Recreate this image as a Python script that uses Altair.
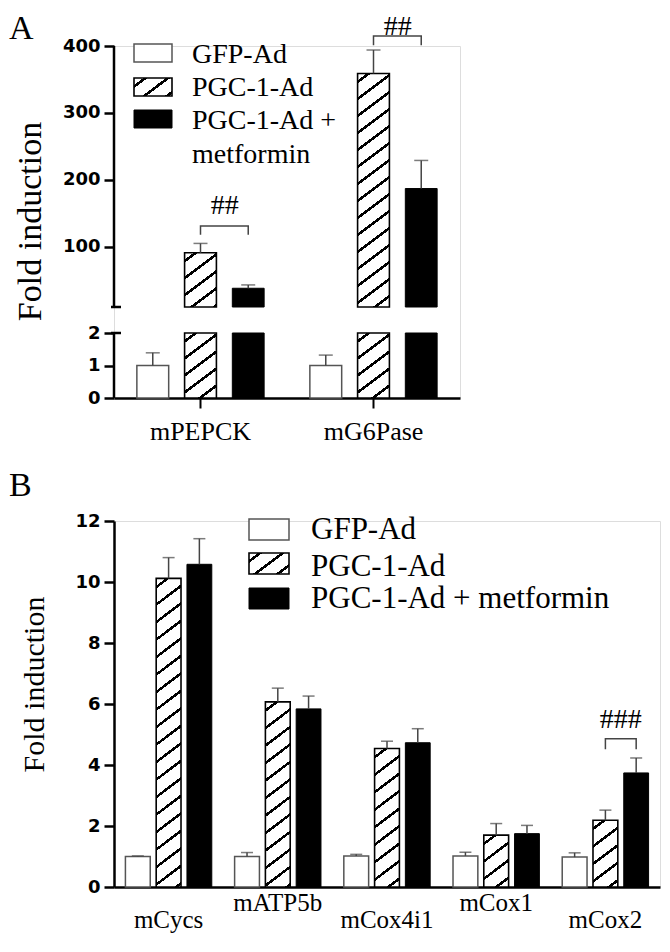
import altair as alt
import pandas as pd

# ---------------- data ----------------
SERIES = ["GFP-Ad", "PGC-1-Ad", "PGC-1-Ad + metformin"]

A_GENES = ["mPEPCK", "mG6Pase"]
A_GFP = [1.0, 1.0]
A_GFP_ERR = [0.39, 0.32]
A_PGC = [91.0, 359.0]
A_PGC_ERR = [14.0, 35.0]
A_MET = [38.0, 187.0]
A_MET_ERR = [5.0, 42.0]
A_TICKS = [0, 1, 2, 100, 200, 300, 400]
A_SIG_TEXT = ["##", "##"]
A_SIG_TOP = [131.0, 415.0]
A_SIG_TIP = [118.0, 401.0]
A_SIG_LABEL = [149.0, 417.0]
A_LEGEND = ["GFP-Ad", "PGC-1-Ad", "PGC-1-Ad +\nmetformin"]

B_GENES = ["mCycs", "mATP5b", "mCox4i1", "mCox1", "mCox2"]
B_GFP = [1.0, 1.0, 1.02, 1.02, 0.98]
B_GFP_ERR = [0.02, 0.13, 0.05, 0.12, 0.14]
B_PGC = [10.12, 6.07, 4.54, 1.70, 2.19]
B_PGC_ERR = [0.68, 0.45, 0.24, 0.38, 0.33]
B_MET = [10.58, 5.84, 4.73, 1.75, 3.74]
B_MET_ERR = [0.84, 0.42, 0.46, 0.27, 0.49]
B_TICKS = [0, 2, 4, 6, 8, 10, 12]
B_SIG_GENE = ["mCox2"]
B_SIG_TEXT = ["###"]
B_SIG_TOP = [4.86]
B_SIG_TIP = [4.52]
B_SIG_LABEL = [5.21]
B_LEGEND = ["GFP-Ad", "PGC-1-Ad", "PGC-1-Ad + metformin"]
B_UPPER_LABELS = ["mATP5b", "mCox1"]

# ---------------- style ----------------
SERIF = "Liberation Serif"
SANS = "DejaVu Sans"
ERR_COLOR = "#444444"

A_W = 346
A_LOW_MAX, A_UP_MIN, A_UP_MAX = 2, 10, 400
A_LOW_PX, A_GAP_PX, A_UP_PX = 65, 26, 261
A_K_LOW = A_LOW_PX / A_LOW_MAX
A_UP_BASE = A_LOW_PX + A_GAP_PX
A_K_UP = A_UP_PX / (A_UP_MAX - A_UP_MIN)
A_TOTAL = A_UP_BASE + A_UP_PX

B_W, B_H, B_MAX = 546, 366, 12
LETTER_X = -105
TOP_MARGIN = -37


def disp_num(v):
    return v * A_K_LOW if v <= A_LOW_MAX else A_UP_BASE + (v - A_UP_MIN) * A_K_UP


def dispA(f):
    return (f"(({f}) <= {A_LOW_MAX} ? ({f}) * {A_K_LOW} : "
            f"{A_UP_BASE} + (({f}) - {A_UP_MIN}) * {A_K_UP})")


def hatch(w, h, sp, th):
    dmax = 0.6 * w + 0.8 * h
    k = dmax / (w * h * (0.36 / h ** 2 + 0.64 / w ** 2))
    stops = [{"offset": 0, "color": "white"}]
    c = sp * 0.5
    while c - th / 2 < dmax:
        a = max(0.0, (c - th / 2) / dmax)
        b = min(1.0, (c + th / 2) / dmax)
        stops += [{"offset": a, "color": "white"}, {"offset": a, "color": "black"},
                  {"offset": b, "color": "black"}, {"offset": b, "color": "white"}]
        c += sp
    stops.append({"offset": 1, "color": "white"})
    return {"gradient": "linear", "x1": 0, "y1": 0,
            "x2": k * 0.6 / h, "y2": k * 0.8 / w, "stops": stops}


def long_df(genes, gfp, gfp_e, pgc, pgc_e, met, met_e):
    rows = []
    for i, g in enumerate(genes):
        rows.append(dict(gene=g, series=SERIES[0], value=gfp[i], err=gfp_e[i]))
        rows.append(dict(gene=g, series=SERIES[1], value=pgc[i], err=pgc_e[i]))
        rows.append(dict(gene=g, series=SERIES[2], value=met[i], err=met_e[i]))
    return pd.DataFrame(rows)


def legend_layers(labels, sw_x, sw_w, sw_tops, sw_h, txt_x, baselines, fs, lh, grad):
    df = pd.DataFrame({"series": SERIES, "label": labels})
    styles = [dict(fill="white", stroke="#555555", strokeWidth=1.5),
              dict(fill=grad, stroke="black", strokeWidth=1.6),
              dict(fill="black", stroke="black", strokeWidth=1)]
    out = []
    for i, s in enumerate(SERIES):
        b = alt.Chart(df).transform_filter(alt.datum.series == s)
        out.append(b.mark_rect(**styles[i]).encode(
            x=alt.value(sw_x), x2=alt.value(sw_x + sw_w),
            y=alt.value(sw_tops[i]), y2=alt.value(sw_tops[i] + sw_h)))
        out.append(b.mark_text(align="left", baseline="alphabetic", font=SERIF,
                               fontSize=fs, lineBreak="\n", lineHeight=lh,
                               color="black").encode(
            text="label:N", x=alt.value(txt_x), y=alt.value(baselines[i])))
    return out


# ================= Panel A =================
dfA = long_df(A_GENES, A_GFP, A_GFP_ERR, A_PGC, A_PGC_ERR, A_MET, A_MET_ERR)

axA_x = alt.Axis(title=None, labelAngle=0, domain=True, domainWidth=2.5,
                 domainColor="black", ticks=True, tickSize=10, tickWidth=2,
                 tickColor="black", labelFont=SERIF, labelFontSize=26,
                 labelColor="black", labelPadding=10, grid=False)
axA_y = alt.Axis(values=[disp_num(v) for v in A_TICKS],
                 labelExpr=(f"datum.value <= {A_LOW_PX + 0.01} ? format(datum.value / {A_K_LOW}, '.0f') : "
                            f"format({A_UP_MIN} + (datum.value - {A_UP_BASE}) / {A_K_UP}, '.0f')"),
                 domain=False, ticks=True, tickSize=10, tickWidth=2.5, tickColor="black",
                 labelFont=SANS, labelFontWeight="bold", labelFontSize=18,
                 labelColor="black", labelPadding=4, grid=False,
                 title="Fold induction", titleFont=SERIF, titleFontSize=34,
                 titleFontWeight="normal", titleColor="black",
                 titleX=-74, titleY=175, titleBaseline="alphabetic")
xscA = alt.Scale(domain=A_GENES, paddingInner=0, paddingOuter=0)
xoA = alt.XOffset("series:N", scale=alt.Scale(domain=SERIES, paddingInner=1 / 3,
                                               paddingOuter=0.479))
yscA = alt.Scale(domain=[0, A_TOTAL], nice=False, zero=True)


def xA(**kw):
    return alt.X("gene:N", scale=xscA, axis=axA_x, **kw)


def yA(f):
    return alt.Y(f, type="quantitative", scale=yscA, axis=axA_y)


baseA = alt.Chart(dfA).transform_calculate(
    lo_top=f"min(datum.value, {A_LOW_MAX}) * {A_K_LOW}",
    up_top=dispA("datum.value"),
    e_lo=dispA("datum.value"),
    e_hi=dispA("datum.value + datum.err"),
)

layersA = []
layersA.append(baseA.transform_filter(alt.datum.series == SERIES[0]).mark_bar(
    fill="white", stroke="#555555", strokeWidth=1.5).encode(
    x=xA(), xOffset=xoA, y=yA("lo_top")))
layersA.append(baseA.transform_filter(alt.datum.series == SERIES[2]).mark_bar(
    fill="black", stroke="black", strokeWidth=1).encode(
    x=xA(), xOffset=xoA, y=yA("lo_top")))
layersA.append(baseA.transform_filter(
    (alt.datum.series == SERIES[2]) & (alt.datum.value > A_UP_MIN)).mark_bar(
    fill="black", stroke="black", strokeWidth=1).encode(
    x=xA(), xOffset=xoA, y=yA("up_top"), y2=alt.datum(A_UP_BASE)))
for i, g in enumerate(A_GENES):
    v = A_PGC[i]
    f = baseA.transform_filter((alt.datum.series == SERIES[1]) & (alt.datum.gene == g))
    layersA.append(f.mark_bar(fill=hatch(32, A_LOW_PX, 13.6, 2.6), stroke="black",
                              strokeWidth=1.6).encode(x=xA(), xOffset=xoA, y=yA("lo_top")))
    if v > A_UP_MIN:
        layersA.append(f.mark_bar(fill=hatch(32, (v - A_UP_MIN) * A_K_UP, 13.6, 2.6),
                                  stroke="black", strokeWidth=1.6).encode(
            x=xA(), xOffset=xoA, y=yA("up_top"), y2=alt.datum(A_UP_BASE)))
layersA.append(baseA.mark_rule(color=ERR_COLOR, strokeWidth=1.5).encode(
    x=xA(), xOffset=xoA, y=yA("e_lo"), y2="e_hi:Q"))
layersA.append(baseA.mark_tick(orient="horizontal", size=14, thickness=1.5,
                               color=ERR_COLOR).encode(x=xA(), xOffset=xoA, y=yA("e_hi")))

# broken y-axis line (two segments) with small break caps
seg_df = pd.DataFrame({"k": [0]})
for lo, hi in [(0, A_LOW_PX), (A_UP_BASE, A_TOTAL)]:
    layersA.append(alt.Chart(seg_df).mark_rule(color="black", strokeWidth=2.5).encode(
        x=alt.value(0), y=alt.Y(datum=lo, scale=yscA, axis=axA_y, type="quantitative"),
        y2=alt.datum(hi)))
for b in [A_LOW_PX, A_UP_BASE]:
    layersA.append(alt.Chart(seg_df).mark_rule(color="black", strokeWidth=2.5).encode(
        x=alt.value(-3), x2=alt.value(7),
        y=alt.Y(datum=b, scale=yscA, axis=axA_y, type="quantitative")))
# invisible spacer so that the top glyphs are not clipped
layersA.append(alt.Chart(seg_df).mark_rule(opacity=0).encode(
    x=alt.value(0), x2=alt.value(1), y=alt.value(TOP_MARGIN)))

# significance brackets
br_rows = []
for i, g in enumerate(A_GENES):
    br_rows += [dict(gene=g, series=SERIES[1], yv=A_SIG_TIP[i], o=0),
                dict(gene=g, series=SERIES[1], yv=A_SIG_TOP[i], o=1),
                dict(gene=g, series=SERIES[2], yv=A_SIG_TOP[i], o=2),
                dict(gene=g, series=SERIES[2], yv=A_SIG_TIP[i], o=3)]
layersA.append(alt.Chart(pd.DataFrame(br_rows)).transform_calculate(
    yd=dispA("datum.yv")).mark_line(color=ERR_COLOR, strokeWidth=1.5).encode(
    x=xA(), xOffset=xoA, y=yA("yd"), order="o:Q", detail="gene:N"))
layersA.append(alt.Chart(pd.DataFrame({"gene": A_GENES, "t": A_SIG_TEXT, "yv": A_SIG_LABEL}))
               .transform_calculate(yd=dispA("datum.yv"))
               .mark_text(font=SERIF, fontSize=28, baseline="alphabetic", color="black")
               .encode(x=xA(bandPosition=0.64), y=yA("yd"), text="t:N"))

layersA += legend_layers(A_LEGEND, 20, 38, [-2, 32, 64], 18, 78, [17, 50, 83], 28, 34,
                         hatch(38, 18, 13.6, 2.6))
layersA.append(alt.Chart(pd.DataFrame({"t": ["A"]})).mark_text(
    align="left", baseline="alphabetic", font=SERIF, fontSize=34, color="black").encode(
    text="t:N", x=alt.value(LETTER_X), y=alt.value(-7)))

chartA = alt.layer(*layersA).properties(width=A_W, height=A_TOTAL)

# ================= Panel B =================
dfB = long_df(B_GENES, B_GFP, B_GFP_ERR, B_PGC, B_PGC_ERR, B_MET, B_MET_ERR)
upper_list = "[" + ",".join(f"'{s}'" for s in B_UPPER_LABELS) + "]"
axB_x = alt.Axis(title=None, labelAngle=0, domain=True, domainWidth=2.5,
                 domainColor="black", ticks=False, tickSize=0, labelFont=SERIF,
                 labelFontSize=25, labelColor="black", labelPadding=3,
                 labelLineHeight=17, labelBaseline="top",
                 labelExpr=f"indexof({upper_list}, datum.value) >= 0 ? datum.value : ['', datum.value]",
                 grid=False)
axB_y = alt.Axis(values=B_TICKS, domain=True, domainWidth=2.5, domainColor="black",
                 ticks=True, tickSize=10, tickWidth=2.5, tickColor="black",
                 labelFont=SANS, labelFontWeight="bold", labelFontSize=18,
                 labelColor="black", labelPadding=4, grid=False,
                 title="Fold induction", titleFont=SERIF, titleFontSize=30,
                 titleFontWeight="normal", titleColor="black",
                 titleX=-71, titleY=163, titleBaseline="alphabetic")
xscB = alt.Scale(domain=B_GENES, paddingInner=0, paddingOuter=0)
xoB = alt.XOffset("series:N", scale=alt.Scale(domain=SERIES, paddingInner=0.1935,
                                               paddingOuter=0.371))
yscB = alt.Scale(domain=[0, B_MAX], nice=False, zero=True)
B_K = B_H / B_MAX


def xB(**kw):
    return alt.X("gene:N", scale=xscB, axis=axB_x, **kw)


def yB(f):
    return alt.Y(f, type="quantitative", scale=yscB, axis=axB_y)


baseB = alt.Chart(dfB).transform_calculate(e_hi="datum.value + datum.err")
layersB = []
layersB.append(baseB.transform_filter(alt.datum.series == SERIES[0]).mark_bar(
    fill="white", stroke="#555555", strokeWidth=1.5).encode(
    x=xB(), xOffset=xoB, y=yB("value")))
layersB.append(baseB.transform_filter(alt.datum.series == SERIES[2]).mark_bar(
    fill="black", stroke="black", strokeWidth=1).encode(
    x=xB(), xOffset=xoB, y=yB("value")))
for i, g in enumerate(B_GENES):
    f = baseB.transform_filter((alt.datum.series == SERIES[1]) & (alt.datum.gene == g))
    layersB.append(f.mark_bar(fill=hatch(25, B_PGC[i] * B_K, 14.0, 2.5), stroke="black",
                              strokeWidth=1.6).encode(x=xB(), xOffset=xoB, y=yB("value")))
layersB.append(baseB.mark_rule(color=ERR_COLOR, strokeWidth=1.5).encode(
    x=xB(), xOffset=xoB, y=yB("value"), y2="e_hi:Q"))
layersB.append(baseB.mark_tick(orient="horizontal", size=12, thickness=1.5,
                               color=ERR_COLOR).encode(x=xB(), xOffset=xoB, y=yB("e_hi")))
brB = []
for i, g in enumerate(B_SIG_GENE):
    brB += [dict(gene=g, series=SERIES[1], yv=B_SIG_TIP[i], o=0),
            dict(gene=g, series=SERIES[1], yv=B_SIG_TOP[i], o=1),
            dict(gene=g, series=SERIES[2], yv=B_SIG_TOP[i], o=2),
            dict(gene=g, series=SERIES[2], yv=B_SIG_TIP[i], o=3)]
layersB.append(alt.Chart(pd.DataFrame(brB)).mark_line(color=ERR_COLOR, strokeWidth=1.5).encode(
    x=xB(), xOffset=xoB, y=yB("yv"), order="o:Q", detail="gene:N"))
layersB.append(alt.Chart(pd.DataFrame({"gene": B_SIG_GENE, "t": B_SIG_TEXT, "yv": B_SIG_LABEL}))
               .mark_text(font=SERIF, fontSize=28, baseline="alphabetic", color="black")
               .encode(x=xB(bandPosition=0.64), y=yB("yv"), text="t:N"))
layersB += legend_layers(B_LEGEND, 135, 40, [-2, 32, 67], 21, 197, [18, 55, 87], 31, 34,
                         hatch(40, 21, 13.6, 2.6))
layersB.append(alt.Chart(pd.DataFrame({"t": ["B"]})).mark_text(
    align="left", baseline="alphabetic", font=SERIF, fontSize=34, color="black").encode(
    text="t:N", x=alt.value(LETTER_X), y=alt.value(-25)))

chartB = alt.layer(*layersB).properties(width=B_W, height=B_H)

chart = alt.vconcat(chartA, chartB, spacing=123, bounds="flush").resolve_scale(
    x="independent", y="independent", xOffset="independent").properties(
    padding=0).configure_view(
    stroke=None, strokeWidth=0).configure_axis(grid=False).configure(
    background="white", padding=0)

chart.save("out.html", embed_options={"renderer": "svg", "actions": False})
